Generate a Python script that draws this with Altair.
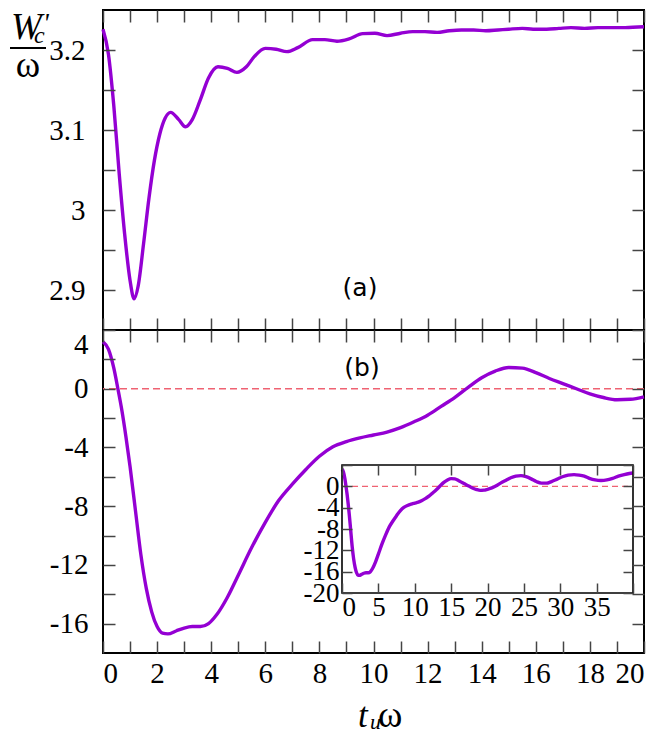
import altair as alt
import pandas as pd

# ---------------- data ----------------
# panel (a): W'_c / omega  vs  t_u omega
ta = [0, 0.2, 0.4, 0.6, 0.8, 1.0, 1.15, 1.3, 1.5, 1.7, 1.9, 2.1, 2.3, 2.5, 2.8, 3.05,
      3.3, 3.6, 3.9, 4.25, 4.6, 4.95, 5.3, 5.6, 6.0, 6.4, 6.8, 7.2, 7.75, 8.2, 8.65,
      9.1, 9.6, 10.05, 10.5, 11.0, 11.45, 11.9, 12.35, 12.8, 13.25, 13.7, 14.15, 14.6,
      15.0, 15.5, 15.9, 16.4, 16.85, 17.3, 17.8, 18.3, 18.75, 19.3, 20.0]
wa = [3.226, 3.195, 3.13, 3.045, 2.97, 2.912, 2.889, 2.905, 2.958, 3.015, 3.062, 3.095,
      3.115, 3.122, 3.113, 3.104, 3.113, 3.138, 3.165, 3.179, 3.177, 3.172, 3.179, 3.192,
      3.202, 3.201, 3.198, 3.203, 3.213, 3.213, 3.211, 3.214, 3.2205, 3.221, 3.218, 3.221,
      3.223, 3.223, 3.222, 3.224, 3.225, 3.225, 3.224, 3.225, 3.226, 3.227, 3.226, 3.226,
      3.227, 3.228, 3.227, 3.228, 3.228, 3.228, 3.229]

# panel (b)
tb = [0, 0.2, 0.4, 0.55, 0.7, 0.85, 1.0, 1.2, 1.4, 1.6, 1.8, 2.0, 2.2, 2.4, 2.7, 3.0,
      3.3, 3.6, 3.9, 4.2, 4.6, 5.0, 5.5, 6.0, 6.5, 7.0, 7.5, 8.0, 8.5, 9.0, 9.5, 10.0,
      10.5, 11.0, 11.5, 12.0, 12.5, 13.0, 13.5, 14.0, 14.5, 15.0, 15.5, 16.0, 16.5, 17.0,
      17.5, 18.0, 18.5, 19.0, 19.5, 20.0]
wb = [3.2, 2.7, 1.4, 0.0, -1.5, -3.3, -5.3, -8.3, -11.3, -13.6, -15.2, -16.2, -16.65,
      -16.7, -16.5, -16.3, -16.2, -16.2, -16.0, -15.4, -14.2, -12.7, -10.8, -9.1, -7.6,
      -6.5, -5.5, -4.6, -3.95, -3.6, -3.35, -3.15, -2.95, -2.65, -2.25, -1.8, -1.2, -0.6,
      0.1, 0.75, 1.2, 1.45, 1.4, 1.1, 0.7, 0.35, 0.0, -0.35, -0.6, -0.75, -0.72, -0.55]

# inset: continuation beyond t = 20
ti_ext = [20.6, 21.2, 21.8, 22.5, 23.2, 23.9, 24.6, 25.3, 26.0, 26.7, 27.4, 28.1, 28.8,
          29.5, 30.3, 31.1, 31.9, 32.6, 33.3, 34.0, 34.8, 35.6, 36.4, 37.2, 38.0, 38.8,
          39.5, 40.0]
wi_ext = [-0.3, 0.1, 0.6, 1.1, 1.6, 1.9, 2.0, 1.8, 1.4, 0.9, 0.6, 0.6, 0.9, 1.3, 1.8,
          2.1, 2.2, 2.1, 1.9, 1.5, 1.2, 1.1, 1.2, 1.5, 1.9, 2.2, 2.4, 2.5]

xa_ticks = list(range(0, 21))
ya_ticks = [2.9, 2.95, 3.0, 3.05, 3.1, 3.15, 3.2]
yb_ticks = list(range(-16, 5, 2))
xi_ticks = list(range(0, 41, 5))
yi_ticks = list(range(-20, 5, 4))

# ---------------- layout constants ----------------
W = 541
HA = 320
HB = 323
TICK = 12
TI = 10
PURPLE = "#9400d3"
ZERO = "#ef6272"
FONT = "Liberation Serif"
TICKC = "#444444"
LW = 3.4

# inset box in panel-(b) pixel coordinates
IX0, IX1 = 239, 530
IY_BOT, IY_TOP = HB - 60, HB - 188


def ax(orient, values, labels=False, expr=None, offset=0, tick=TICK, pad=0,
       size=29, flush=False):
    kw = dict(orient=orient, values=values, domain=False, grid=False, ticks=True,
              tickSize=tick, tickColor=TICKC, tickWidth=1.5, offset=offset - tick,
              title=None, labels=labels, zindex=1)
    if labels:
        kw.update(labelFont=FONT, labelFontSize=size, labelColor="black",
                  labelPadding=pad, labelExpr=expr, labelOverlap=False)
    if flush:
        kw["labelFlush"] = True
    return alt.Axis(**kw)


def txt(s, x, y, size, font=FONT, style="normal", align="left", baseline="alphabetic"):
    return alt.Chart(pd.DataFrame({"s": [s]})).mark_text(
        font=font, fontSize=size, fontStyle=style, align=align, baseline=baseline,
        color="black").encode(text="s:N", x=alt.value(x), y=alt.value(y))


# ---------------- panel (a) ----------------
df_a = pd.DataFrame({"t": ta, "w": wa})
xs_a = alt.Scale(domain=[0, 20], nice=False, zero=False)
ys_a = alt.Scale(domain=[2.85, 3.25], nice=False, zero=False)

line_a = alt.Chart(df_a).mark_line(color=PURPLE, strokeWidth=LW, interpolate="monotone").encode(
    x=alt.X("t:Q", scale=xs_a, axis=ax("bottom", xa_ticks)),
    y=alt.Y("w:Q", scale=ys_a, axis=ax("left", ya_ticks, labels=True, pad=18,
            expr="round(datum.value*100) % 10 == 0 ? toString(datum.value) : ''")),
)
mirror_a = alt.Chart(df_a).mark_point(opacity=0).encode(
    x=alt.X("t:Q", scale=xs_a, axis=ax("top", xa_ticks)),
    y=alt.Y("w:Q", scale=ys_a, axis=ax("right", ya_ticks)),
)
bar_df = pd.DataFrame({"k": [0]})
frac_bar = alt.Chart(bar_df).mark_rule(color="black", strokeWidth=2).encode(
    x=alt.value(-93), x2=alt.value(-57), y=alt.value(38))

panel_a = alt.layer(
    line_a, mirror_a,
    txt("W", -92, 0, 37, style="italic", baseline="top"),
    txt("c", -69, 14, 24, style="italic", baseline="top"),
    txt("'", -60, 1, 27, style="italic", baseline="top"),
    frac_bar,
    txt("ω", -75, 67, 37, align="center"),
    txt("(a)", 257, 278, 25, font="DejaVu Sans", align="center", baseline="middle"),
).resolve_scale(x="independent", y="independent").properties(width=W, height=HA)

# ---------------- panel (b) ----------------
df_b = pd.DataFrame({"t": tb, "w": wb})
xs_b = alt.Scale(domain=[0, 20], nice=False, zero=False)
ys_b = alt.Scale(domain=[-18, 4], nice=False, zero=False)
xax_b = ax("bottom", xa_ticks, labels=True, pad=6,
           expr="datum.value % 2 == 0 ? toString(datum.value) : ''")
yax_b = ax("left", yb_ticks, labels=True, pad=15, flush=True,
           expr="datum.value % 4 == 0 ? toString(datum.value) : ''")

zero_b = alt.Chart(pd.DataFrame({"z": [0]})).mark_rule(
    color=ZERO, strokeWidth=1.3, strokeDash=[7, 4]).encode(
    y=alt.Y("z:Q", scale=ys_b, axis=yax_b))
line_b = alt.Chart(df_b).mark_line(color=PURPLE, strokeWidth=LW, interpolate="monotone").encode(
    x=alt.X("t:Q", scale=xs_b, axis=xax_b),
    y=alt.Y("w:Q", scale=ys_b, axis=yax_b),
)
main_b = alt.layer(zero_b, line_b)
mirror_b = alt.Chart(df_b).mark_point(opacity=0).encode(
    x=alt.X("t:Q", scale=xs_b, axis=ax("top", xa_ticks)),
    y=alt.Y("w:Q", scale=ys_b, axis=ax("right", yb_ticks)),
)

# inset
df_i = pd.DataFrame({"t": tb + ti_ext, "w": wb + wi_ext})
xs_i = alt.Scale(domain=[0, 40], range=[IX0, IX1], nice=False, zero=False)
ys_i = alt.Scale(domain=[-20, 4], range=[IY_BOT, IY_TOP], nice=False, zero=False)
xax_i = ax("bottom", xi_ticks, labels=True, tick=TI, offset=-(HB - IY_BOT), pad=1,
           size=27, expr="datum.value < 40 ? toString(datum.value) : ''")
yax_i = ax("left", yi_ticks, labels=True, tick=TI, offset=-IX0, pad=3, size=27,
           expr="datum.value <= 0 ? toString(datum.value) : ''")
box_df = pd.DataFrame({"x0": [0], "x1": [40], "y0": [-20], "y1": [4], "z": [0]})

inset_box = alt.Chart(box_df).mark_rect(fillOpacity=0, stroke="black", strokeWidth=1.6).encode(
    x=alt.X("x0:Q", scale=xs_i, axis=xax_i), x2="x1:Q",
    y=alt.Y("y0:Q", scale=ys_i, axis=yax_i), y2="y1:Q",
)
inset_zero = alt.Chart(box_df).mark_rule(color=ZERO, strokeWidth=1.2, strokeDash=[6, 4]).encode(
    x=alt.X("x0:Q", scale=xs_i, axis=xax_i), x2="x1:Q",
    y=alt.Y("z:Q", scale=ys_i, axis=yax_i),
)
inset_line = alt.Chart(df_i).mark_line(color=PURPLE, strokeWidth=LW, interpolate="monotone").encode(
    x=alt.X("t:Q", scale=xs_i, axis=xax_i),
    y=alt.Y("w:Q", scale=ys_i, axis=yax_i),
)
inset = alt.layer(inset_zero, inset_line, inset_box)
inset_mirror = alt.Chart(box_df).mark_point(opacity=0).encode(
    x=alt.X("x0:Q", scale=xs_i, axis=ax("top", xi_ticks, tick=TI, offset=-IY_TOP)),
    y=alt.Y("y0:Q", scale=ys_i, axis=ax("right", yi_ticks, tick=TI, offset=-(W - IX1))),
)

panel_b = alt.layer(
    main_b, mirror_b, inset, inset_mirror,
    txt("(b)", 259, 38, 25, font="DejaVu Sans", align="center", baseline="middle"),
    txt("t", 255, HB + 74, 35, style="italic"),
    txt("u", 267, HB + 76, 22, style="italic"),
    txt("ω", 275, HB + 74, 37),
).resolve_scale(x="independent", y="independent").properties(width=W, height=HB)

chart = alt.vconcat(panel_a, panel_b, spacing=0, bounds="flush").properties(
    padding={"left": 0, "top": 0, "right": 0, "bottom": 0}
).configure_view(stroke="black", strokeWidth=2).configure_axis(
    grid=False, labelFont=FONT, labelFontSize=29, labelColor="black")

chart.save("out.html", embed_options={"renderer": "svg", "actions": False})
